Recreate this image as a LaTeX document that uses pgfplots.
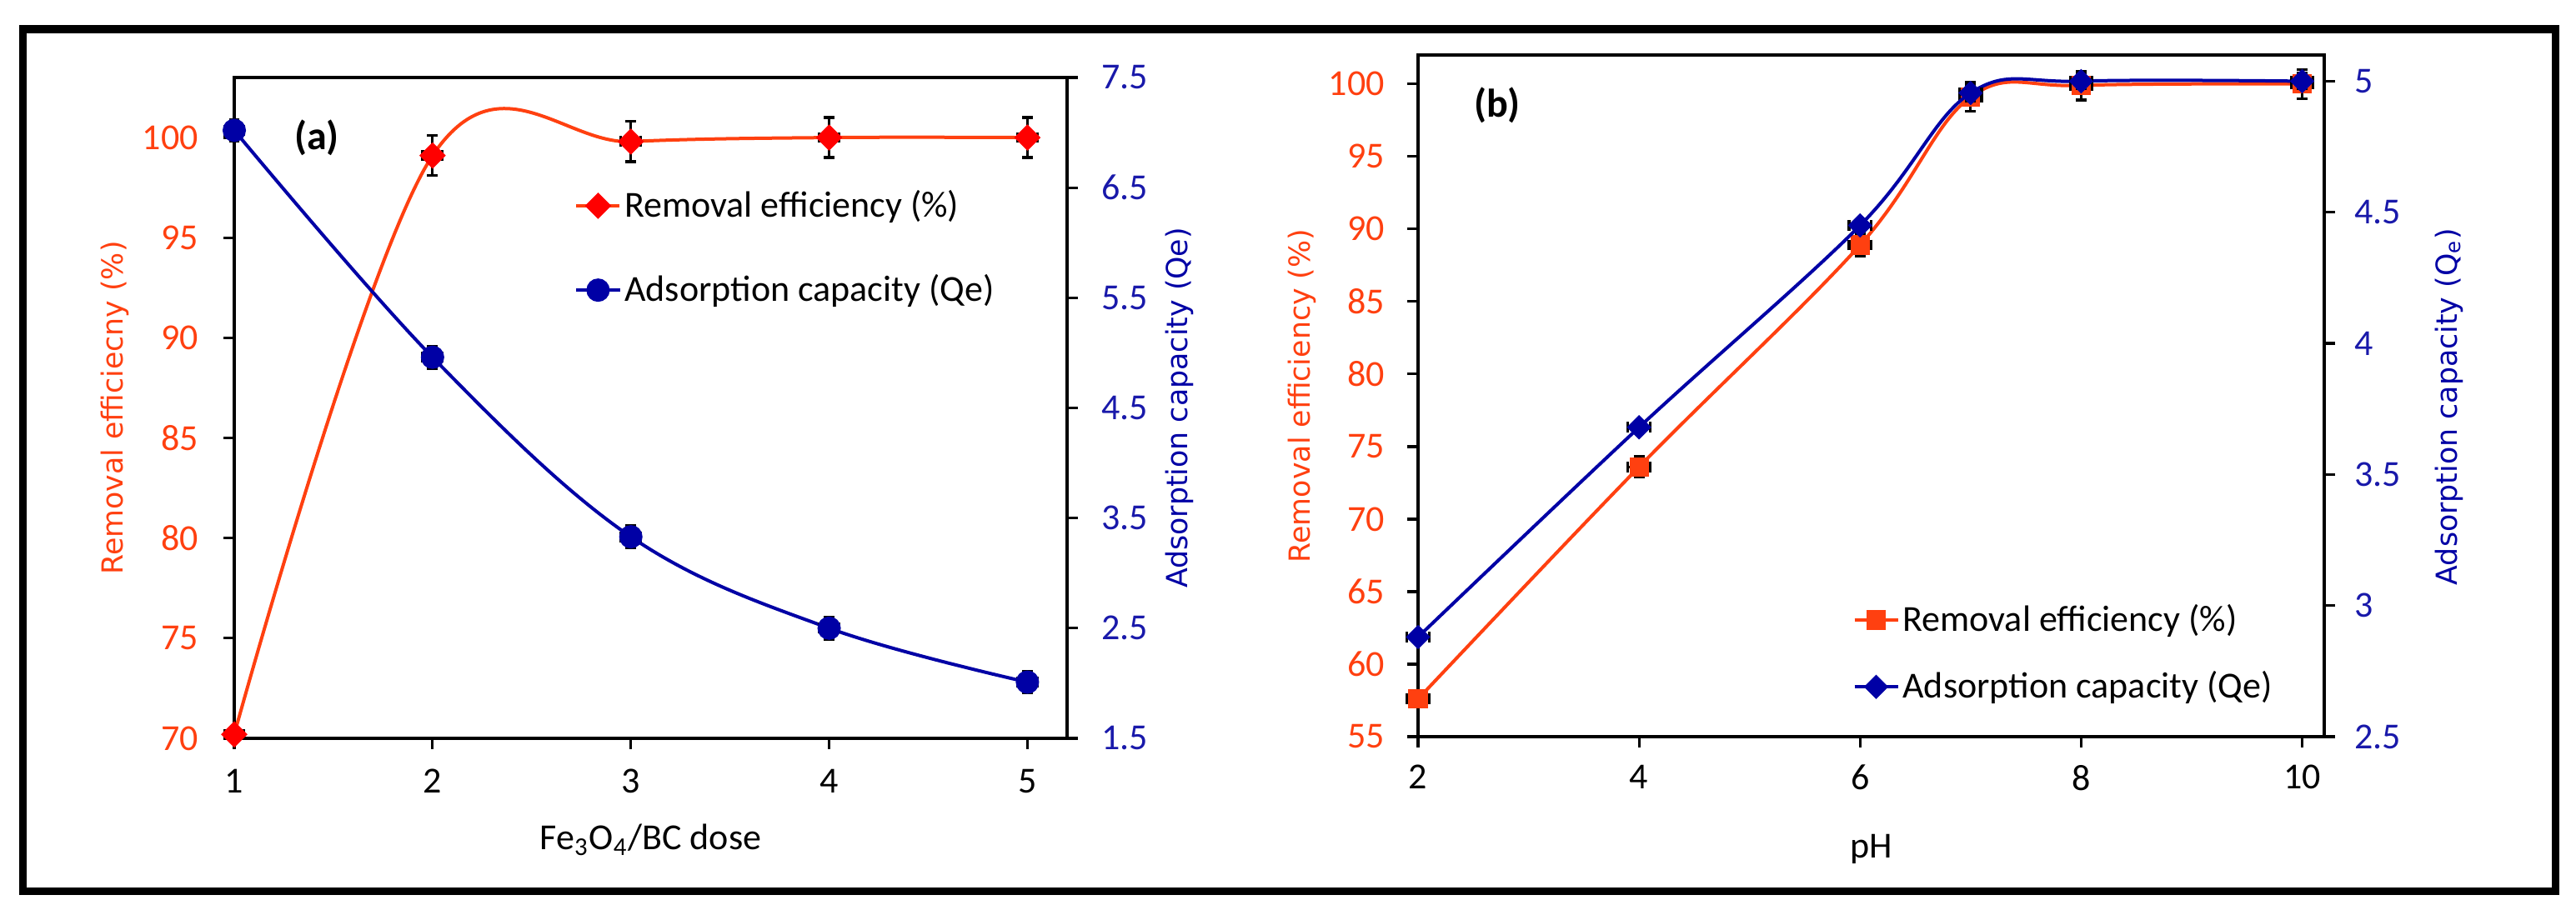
\documentclass[border=0pt]{standalone}
\usepackage{fontspec}
\setmainfont{Carlito}
\newfontfamily\verd{DejaVu Sans}
\usepackage{pgfplots}
\pgfplotsset{compat=1.18}

\definecolor{orng}{RGB}{255,64,16}
\definecolor{redm}{RGB}{255,0,0}
\definecolor{navy}{RGB}{0,0,165}
\definecolor{navt}{RGB}{25,25,170}

\pgfplotsset{
  base/.style={
    scale only axis, clip=false, anchor=south west,
    tick align=outside, major tick length=3.25pt,
    every tick/.style={black, line width=0.8pt},
    axis line style={line width=0.8pt},
    /pgf/number format/assume math mode=true,
    tick label style={font=\fontsize{11}{13}\selectfont},
    every axis label/.append style={font=\verd\fontsize{8.7}{10}\selectfont},
    every axis x label/.style={at={(axis description cs:0.5,-0.154)}, anchor=center,
      font=\fontsize{11}{13}\selectfont},
  },
  ebar/.style={error bars/.cd, x dir=both, x explicit, y dir=both, y explicit,
    error bar style={black, line width=0.8pt},
    error mark options={black, line width=0.8pt, mark size=1.6pt, rotate=90}},
  leg/.style={
    legend cell align=left,
    legend style={draw=none, fill=none, inner sep=0pt, font=\fontsize{11}{13}\selectfont,
      nodes={inner sep=1pt}, column sep=0pt},
    legend image code/.code={\draw[mark repeat=2,mark phase=2]
      plot coordinates {(0pt,0pt)(6.5pt,0pt)(13pt,0pt)};},
  },
}

\begin{document}
\begin{tikzpicture}
\useasboundingbox (0,0) rectangle (772.5pt,274.5pt);
\draw[line width=2.3pt] (6.83pt,7.125pt) rectangle (766.4pt,265.75pt);

% ---- (a) dose
\begin{axis}[base, at={(70.25pt,53pt)}, width=249.75pt, height=198.25pt,
  xmin=1, xmax=5.2, ymin=70, ymax=103,
  xtick={1,2,3,4,5}, ytick={70,75,...,100},
  xtick pos=bottom, ytick pos=left,
  yticklabel style={orng}, yticklabel shift=4pt, xticklabel shift=2.5pt,
  xlabel={Fe\textsubscript{3}O\textsubscript{4}/BC dose},
  ylabel={Removal efficiecny (\%)},
  every axis y label/.style={at={(axis description cs:-0.143,0.5)}, rotate=90, anchor=center, orng}]
\addplot[orng, line width=1pt, smooth, tension=0.6, mark=square*, mark size=2.3pt,
  mark options={draw=redm, fill=redm, rotate=45}, ebar] coordinates {
  (1,70.2) +- (0.05,0)
  (2,99.1) +- (0.05,1)
  (3,99.8) +- (0.05,1)
  (4,100.0) +- (0.05,1)
  (5,100.0) +- (0.05,1)
};
\end{axis}
\begin{axis}[base, leg, at={(70.25pt,53pt)}, width=249.75pt, height=198.25pt,
  xmin=1, xmax=5.2, ymin=1.5, ymax=7.5,
  ytick={1.5,2.5,...,7.5},
  axis y line*=right, axis x line=none, yticklabel shift=3.5pt,
  yticklabel style={navt, /pgf/number format/.cd, fixed, fixed zerofill, precision=1},
  ylabel={Adsorption capacity (Qe)},
  every axis y label/.style={at={(axis description cs:1.135,0.5)}, rotate=90, anchor=center, navy},
  legend style={at={(0.408,0.742)}, anchor=west, row sep=13.75pt}]
\addlegendimage{orng, line width=1pt, mark=square*, mark size=2.3pt,
  mark options={draw=redm, fill=redm, rotate=45}}
\addlegendentry{Removal efficiency (\%)}
\addplot[navy, line width=1pt, smooth, tension=0.6, mark=*, mark size=3pt,
  mark options={fill=navy}, ebar] coordinates {
  (1,7.02) +- (0.05,0.1)
  (2,4.96) +- (0.05,0.1)
  (3,3.33) +- (0.05,0.1)
  (4,2.50) +- (0.05,0.1)
  (5,2.01) +- (0.05,0.1)
};
\addlegendentry{Adsorption capacity (Qe)}
\end{axis}
\node[font=\bfseries\fontsize{12}{14}\selectfont] at (95pt,233.25pt) {(a)};

% ---- (b) pH
\begin{axis}[base, at={(425.25pt,53.5pt)}, width=271.75pt, height=204.5pt,
  xmin=2, xmax=10.2, ymin=55, ymax=102,
  xtick={2,4,6,8,10}, ytick={55,60,...,100},
  xtick pos=bottom, ytick pos=left,
  yticklabel style={orng}, yticklabel shift=3.3pt, xticklabel shift=1.75pt,
  xlabel={pH},
  every axis x label/.style={at={(axis description cs:0.5,-0.165)}, anchor=center,
    font=\fontsize{11}{13}\selectfont},
  ylabel={Removal efficiency (\%)},
  every axis y label/.style={at={(axis description cs:-0.128,0.5)}, rotate=90, anchor=center, orng}]
\addplot[orng, line width=1pt, smooth, tension=0.6, mark=square*, mark size=2.4pt,
  mark options={fill=orng}, ebar] coordinates {
  (2,57.6) +- (0.1,0.3)
  (4,73.6) +- (0.1,0.7)
  (6,88.9) +- (0.1,0.8)
  (7,99.1) +- (0.1,1.0)
  (8,99.9) +- (0.1,1.0)
  (10,100.0) +- (0.1,1.0)
};
\end{axis}
\begin{axis}[base, leg, at={(425.25pt,53.5pt)}, width=271.75pt, height=204.5pt,
  xmin=2, xmax=10.2, ymin=2.5, ymax=5.1,
  ytick={2.5,3,...,5},
  axis y line*=right, axis x line=none, yticklabel shift=2.3pt,
  yticklabel style={navt},
  ylabel={Adsorption capacity (Q\textsubscript{e})},
  every axis y label/.style={at={(axis description cs:1.138,0.484)}, rotate=90, anchor=center, navy},
  legend style={at={(0.479,0.122)}, anchor=west, row sep=8.5pt}]
\addlegendimage{orng, line width=1pt, mark=square*, mark size=2.4pt, mark options={fill=orng}}
\addlegendentry{Removal efficiency (\%)}
\addplot[navy, line width=1pt, smooth, tension=0.6, mark=square*, mark size=2.1pt,
  mark options={fill=navy, rotate=45}, ebar] coordinates {
  (2,2.88) +- (0.1,0.02)
  (4,3.68) +- (0.1,0.02)
  (6,4.45) +- (0.1,0.02)
  (7,4.955) +- (0.1,0.03)
  (8,5.0) +- (0.1,0.03)
  (10,5.0) +- (0.1,0.03)
};
\addlegendentry{Adsorption capacity (Qe)}
\end{axis}
\node[font=\bfseries\fontsize{12}{14}\selectfont] at (449pt,243pt) {(b)};
\end{tikzpicture}
\end{document}
